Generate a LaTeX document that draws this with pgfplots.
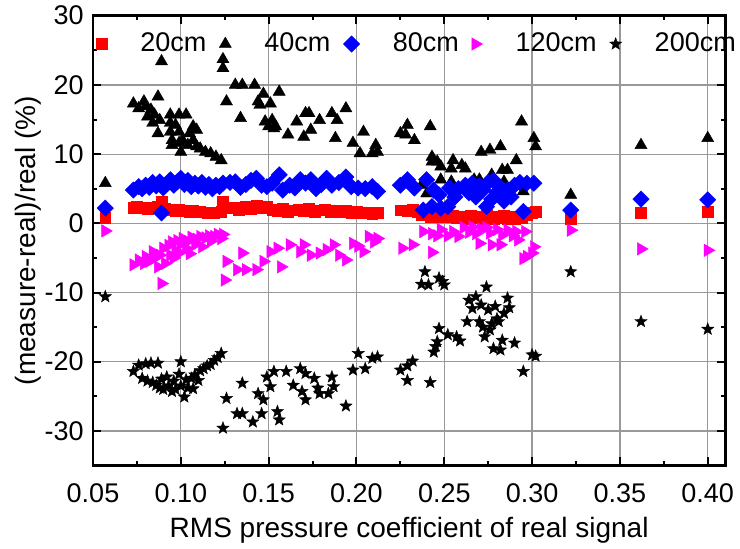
\documentclass[border=0pt]{standalone}
\usepackage{pgfplots}
\pgfplotsset{compat=1.18}
\usepackage{fontspec}
\setmainfont{Liberation Sans}
\definecolor{mred}{RGB}{255,0,0}
\definecolor{mblue}{RGB}{0,0,255}
\definecolor{mmag}{RGB}{255,0,255}
\pgfdeclareplotmark{fstar}{%
  \pgfpathmoveto{\pgfqpointpolar{90}{\pgfplotmarksize}}%
  \pgfpathlineto{\pgfqpointpolar{126}{0.42\pgfplotmarksize}}%
  \pgfpathlineto{\pgfqpointpolar{162}{\pgfplotmarksize}}%
  \pgfpathlineto{\pgfqpointpolar{198}{0.42\pgfplotmarksize}}%
  \pgfpathlineto{\pgfqpointpolar{234}{\pgfplotmarksize}}%
  \pgfpathlineto{\pgfqpointpolar{270}{0.42\pgfplotmarksize}}%
  \pgfpathlineto{\pgfqpointpolar{306}{\pgfplotmarksize}}%
  \pgfpathlineto{\pgfqpointpolar{342}{0.42\pgfplotmarksize}}%
  \pgfpathlineto{\pgfqpointpolar{18}{\pgfplotmarksize}}%
  \pgfpathlineto{\pgfqpointpolar{54}{0.42\pgfplotmarksize}}%
  \pgfpathclose
  \pgfusepathqfillstroke
}
\begin{document}
\begin{tikzpicture}
\begin{axis}[
  scale only axis,
  width=316.15bp, height=224.9bp,
  xmin=0.05, xmax=0.41, ymin=-35, ymax=30,
  enlargelimits=false,
  xtick={0.05,0.10,0.15,0.20,0.25,0.30,0.35,0.40},
  ytick={-30,-20,-10,0,10,20,30},
  minor x tick num=1, minor y tick num=1,
  tick align=inside,
  major tick length=4bp, minor tick length=2.2bp,
  every tick/.style={black, line width=1bp},
  axis line style={line width=1.4bp},
  grid=major,
  major grid style={black!40, line width=0.6bp},
  /pgf/number format/assume math mode=true,
  tick label style={font=\fontsize{13.5bp}{16bp}\selectfont},
  xticklabel style={anchor=base, inner sep=0pt, yshift=-18.25bp,
    /pgf/number format/.cd, fixed, fixed zerofill, precision=2},
  yticklabel style={anchor=east, inner sep=0pt, xshift=-4.5bp},
  label style={font=\fontsize{14bp}{17bp}\selectfont},
  xlabel={RMS pressure coefficient of real signal},
  ylabel={(measure-real)/real (\%)},
  xlabel style={at={(axis description cs:0.5,-0.159)}, anchor=base, inner sep=0pt},
  ylabel style={at={(axis description cs:-0.1028,0.5)}, anchor=center, inner sep=0pt},
  legend columns=5,
  legend image code/.code={\draw[#1,mark repeat=2,mark phase=2] plot coordinates {(0bp,0bp) (3bp,0bp) (6bp,0bp)};},
  legend style={at={(axis description cs:0.0055,0.937)}, anchor=west,
    draw=none, fill=none, inner sep=0pt, outer sep=0pt,
    font=\fontsize{13.5bp}{16bp}\selectfont,
    /tikz/every odd column/.append style={column sep=14.5bp},
    /tikz/every even column/.append style={column sep=4.5bp}},
]
\addplot[only marks, mark=square*, color=mred, mark size=2.7bp, mark options={line width=0.2bp}] table {
0.057 0.8
0.073 2.3
0.075 2.4
0.077 2.2
0.079 2.3
0.081 2.1
0.083 2.3
0.085 2.2
0.087 2.4
0.089 3.1
0.089 2.0
0.091 2.1
0.093 1.9
0.095 2.0
0.097 1.8
0.099 2.0
0.101 1.8
0.103 1.9
0.105 1.7
0.107 1.8
0.109 1.6
0.111 1.7
0.113 1.6
0.115 1.5
0.117 1.6
0.119 1.5
0.121 1.6
0.123 1.7
0.124 2.6
0.124 3.2
0.126 2.3
0.130 2.3
0.133 2.0
0.137 2.4
0.140 2.1
0.143 2.5
0.146 2.2
0.149 2.4
0.152 2.0
0.155 1.8
0.158 2.1
0.161 1.7
0.164 1.9
0.167 2.0
0.170 1.8
0.173 2.1
0.176 1.7
0.179 1.9
0.182 2.0
0.185 1.7
0.188 1.9
0.191 1.6
0.194 1.8
0.197 1.5
0.200 1.7
0.203 1.5
0.206 1.6
0.209 1.4
0.212 1.5
0.225 1.9
0.229 1.8
0.232 2.0
0.235 1.6
0.237 1.2
0.240 1.4
0.242 1.0
0.245 1.3
0.247 0.9
0.250 1.2
0.252 0.9
0.255 1.1
0.257 0.8
0.260 1.0
0.262 0.7
0.265 1.1
0.267 0.8
0.270 1.0
0.272 0.7
0.274 1.2
0.276 0.9
0.278 0.6
0.280 1.0
0.282 0.8
0.284 1.1
0.286 0.6
0.288 0.9
0.290 0.7
0.292 1.0
0.294 0.8
0.297 1.2
0.300 1.5
0.302 1.7
0.322 0.7
0.362 1.5
0.400 1.7
};
\addlegendentry{20cm}
\addplot[only marks, mark=triangle*, color=black, mark size=3.5bp, mark options={line width=0.2bp}] table {
0.057 5.8
0.073 17.3
0.076 16.6
0.079 17.6
0.080 16.9
0.081 15.4
0.083 16.4
0.084 14.5
0.085 15.7
0.087 18.3
0.087 13.0
0.088 14.9
0.089 23.4
0.094 15.7
0.094 14.5
0.094 13.2
0.095 12.0
0.095 11.3
0.097 14.2
0.099 15.7
0.099 13.2
0.099 11.6
0.100 10.3
0.101 12.0
0.103 15.7
0.104 11.3
0.105 13.0
0.107 14.0
0.107 12.0
0.109 13.5
0.109 11.1
0.111 10.8
0.114 10.3
0.117 10.1
0.120 9.6
0.123 9.1
0.124 23.7
0.124 22.4
0.126 17.6
0.131 20.0
0.134 15.2
0.135 20.0
0.142 20.0
0.144 17.6
0.147 18.7
0.145 17.1
0.148 14.7
0.150 14.0
0.151 17.3
0.152 14.9
0.153 13.7
0.154 14.0
0.156 19.0
0.161 12.8
0.166 14.7
0.170 12.5
0.171 15.9
0.173 15.9
0.174 13.5
0.179 14.9
0.186 15.9
0.188 12.3
0.189 14.9
0.194 16.6
0.198 11.6
0.202 10.1
0.204 13.2
0.209 10.1
0.211 11.3
0.212 10.3
0.225 13.0
0.228 12.8
0.229 14.2
0.233 12.0
0.237 5.5
0.240 4.3
0.242 14.0
0.243 9.6
0.243 8.9
0.246 8.9
0.248 8.2
0.248 6.3
0.254 7.9
0.254 6.0
0.255 9.1
0.260 8.4
0.262 7.9
0.267 6.3
0.270 6.3
0.271 10.3
0.276 10.6
0.277 7.0
0.282 11.1
0.283 7.7
0.284 6.0
0.286 5.1
0.286 7.7
0.291 9.1
0.294 14.7
0.295 4.6
0.301 12.3
0.302 11.1
0.322 4.1
0.362 11.3
0.400 12.3
};
\addlegendentry{40cm}
\addplot[only marks, mark=square*, color=mblue, mark size=2.9bp, mark options={rotate=45, line width=0.2bp}] table {
0.057 2.2
0.089 1.5
0.073 4.8
0.076 5.3
0.078 5.0
0.080 5.5
0.082 5.2
0.084 5.9
0.086 5.4
0.088 6.0
0.090 5.1
0.092 5.7
0.094 6.3
0.096 5.5
0.098 6.0
0.100 6.5
0.102 5.6
0.104 6.2
0.106 5.3
0.108 5.8
0.110 5.4
0.112 5.9
0.114 5.2
0.116 5.6
0.118 5.0
0.120 5.5
0.122 5.3
0.124 5.8
0.128 5.9
0.131 6.0
0.134 5.2
0.137 5.6
0.140 6.2
0.143 6.5
0.146 5.5
0.149 5.3
0.152 5.8
0.156 7.0
0.158 4.8
0.162 5.5
0.165 5.1
0.168 6.3
0.171 5.8
0.174 6.3
0.177 5.0
0.180 5.6
0.183 6.5
0.186 5.5
0.190 5.9
0.194 6.7
0.197 5.3
0.201 5.1
0.205 5.0
0.209 5.3
0.212 4.6
0.225 5.5
0.229 6.3
0.233 5.1
0.238 1.9
0.240 6.3
0.243 2.4
0.244 4.8
0.247 4.1
0.248 2.2
0.252 2.4
0.253 5.1
0.256 3.8
0.258 5.0
0.262 5.5
0.264 4.4
0.266 5.8
0.268 3.8
0.270 5.4
0.272 4.8
0.274 2.4
0.275 5.9
0.277 3.5
0.278 6.2
0.280 4.5
0.282 5.2
0.284 3.2
0.286 4.8
0.288 3.8
0.290 5.5
0.293 5.9
0.295 1.7
0.297 5.8
0.301 5.8
0.322 1.9
0.362 3.5
0.400 3.4
};
\addlegendentry{80cm}
\addplot[only marks, mark=triangle*, color=mmag, mark size=3.6bp, mark options={rotate=-90, line width=0.2bp}] table {
0.057 -1.1
0.073 -6.0
0.076 -5.3
0.079 -5.8
0.080 -4.8
0.082 -5.5
0.084 -4.1
0.085 -5.0
0.087 -6.3
0.088 -4.6
0.089 -8.7
0.090 -3.6
0.091 -5.8
0.093 -3.2
0.094 -4.6
0.095 -2.7
0.096 -5.0
0.097 -3.9
0.098 -2.5
0.099 -4.3
0.100 -3.0
0.101 -2.2
0.103 -3.6
0.104 -2.6
0.105 -4.4
0.106 -2.0
0.108 -3.1
0.109 -2.3
0.111 -1.9
0.112 -3.4
0.114 -2.1
0.116 -1.8
0.117 -2.6
0.119 -1.9
0.121 -1.6
0.123 -2.2
0.124 -1.6
0.125 -8.2
0.126 -5.5
0.132 -6.7
0.135 -4.3
0.137 -6.7
0.143 -6.7
0.147 -5.5
0.151 -4.1
0.155 -3.6
0.157 -6.3
0.162 -3.1
0.168 -4.1
0.170 -3.1
0.174 -4.6
0.179 -4.3
0.183 -3.8
0.187 -3.1
0.190 -4.6
0.194 -5.3
0.198 -2.9
0.201 -3.3
0.204 -4.1
0.207 -1.9
0.210 -2.7
0.212 -2.2
0.226 -3.6
0.232 -3.1
0.238 -1.2
0.243 -4.2
0.243 -1.5
0.246 -1.8
0.248 -0.9
0.252 -1.8
0.255 -1.2
0.258 -1.9
0.261 -0.6
0.264 -1.3
0.266 -0.5
0.268 -1.5
0.270 -2.9
0.271 -0.8
0.274 -0.6
0.276 -1.4
0.277 -3.1
0.280 -0.9
0.282 -3.1
0.283 -1.7
0.286 -1.0
0.289 -1.8
0.291 -1.2
0.292 -2.4
0.295 -5.1
0.296 -1.2
0.297 -4.8
0.300 -4.3
0.301 -3.4
0.322 -1.0
0.362 -3.7
0.400 -3.9
};
\addlegendentry{120cm}
\addplot[only marks, mark=fstar, color=black, mark size=3.2bp, mark options={line width=0.2bp}] table {
0.057 -10.6
0.073 -21.4
0.076 -20.5
0.078 -22.4
0.080 -20.3
0.081 -22.8
0.083 -20.2
0.084 -23.0
0.086 -23.4
0.087 -20.2
0.088 -23.8
0.089 -22.5
0.090 -24.0
0.092 -22.2
0.093 -23.5
0.095 -24.3
0.096 -22.8
0.097 -24.0
0.099 -21.8
0.100 -20.0
0.100 -23.5
0.102 -25.1
0.103 -22.6
0.104 -23.8
0.106 -22.4
0.107 -23.9
0.108 -21.9
0.110 -22.7
0.111 -21.3
0.113 -21.0
0.115 -20.6
0.117 -20.4
0.119 -19.8
0.121 -19.4
0.123 -18.8
0.124 -29.6
0.126 -25.3
0.132 -27.5
0.135 -23.1
0.135 -27.5
0.141 -28.7
0.144 -24.6
0.146 -27.5
0.147 -25.5
0.149 -22.2
0.151 -23.6
0.153 -21.4
0.155 -27.2
0.156 -28.4
0.160 -21.4
0.164 -23.4
0.168 -21.0
0.169 -24.3
0.171 -25.5
0.171 -21.7
0.176 -22.4
0.178 -23.8
0.179 -24.6
0.184 -24.6
0.186 -22.2
0.187 -23.6
0.194 -26.4
0.198 -21.2
0.201 -18.8
0.205 -21.0
0.209 -19.5
0.212 -19.3
0.225 -21.2
0.229 -20.6
0.229 -22.7
0.232 -19.9
0.239 -7.0
0.237 -8.8
0.241 -8.9
0.242 -23.0
0.244 -18.6
0.245 -17.8
0.246 -17.1
0.247 -7.9
0.247 -15.2
0.249 -8.4
0.250 -8.9
0.252 -16.1
0.257 -16.4
0.259 -17.0
0.263 -14.2
0.264 -11.1
0.266 -12.3
0.268 -10.6
0.270 -14.2
0.271 -11.8
0.272 -15.0
0.273 -16.4
0.274 -9.2
0.275 -12.5
0.276 -15.4
0.277 -14.5
0.278 -18.1
0.279 -12.0
0.280 -13.8
0.281 -14.2
0.282 -18.3
0.283 -16.9
0.284 -13.0
0.286 -10.8
0.287 -12.2
0.290 -17.3
0.295 -21.4
0.300 -19.0
0.302 -19.2
0.322 -7.0
0.362 -14.2
0.400 -15.3
};
\addlegendentry{200cm}
\end{axis}
\pgfresetboundingbox
\path ([shift={(-46.5bp,-41.75bp)}]current axis.south west) rectangle ([shift={(7.35bp,7.85bp)}]current axis.north east);
\end{tikzpicture}
\end{document}
